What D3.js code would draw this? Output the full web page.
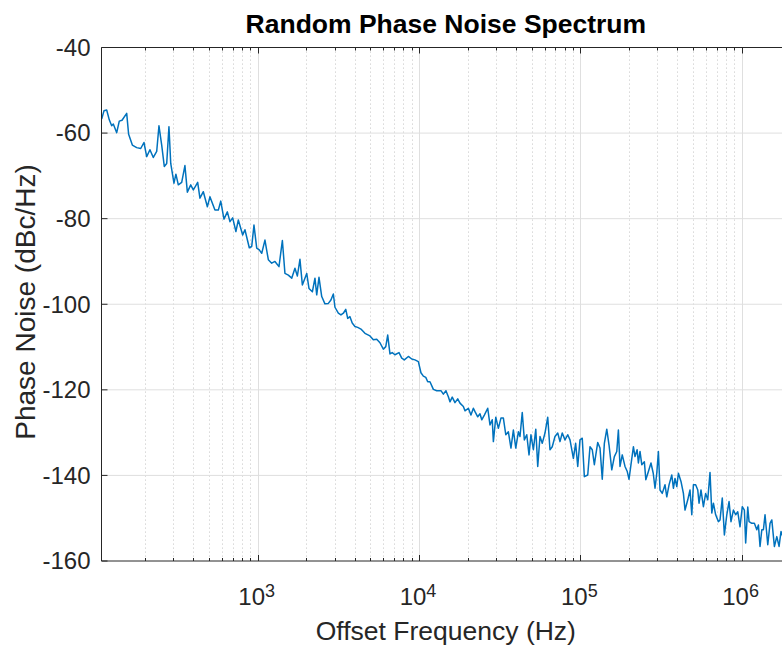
<!DOCTYPE html>
<meta charset="utf-8">

<style type="text/css">
	body {
		margin: 0;
		background: #fff;
	}
	svg {
		display: block;
		font-family: "Liberation Sans", Arial, Helvetica, sans-serif;
	}
	.grid-major line {
		stroke: #dfdfdf;
		stroke-width: 1;
	}
	.grid-minor line {
		stroke: #cccccc;
		stroke-width: 1;
		stroke-dasharray: 1.2, 2.8;
	}
	.frame line, .ticks line {
		stroke: #262626;
		stroke-width: 1;
	}
	.tick-label {
		fill: #262626;
		font-size: 24px;
	}
</style>

<body>

</body>

<script src="https://d3js.org/d3.v7.min.js"></script>

<script>

	// offset frequency, stored as log10(Hz)
	var freqLog10 = [
		2.033,2.047,2.064,2.080,2.095,2.105,2.126,2.142,2.159,2.188,2.200,2.223,2.250,2.275,2.295,2.312,2.332,2.353,2.374,2.388,
		2.405,2.421,2.436,2.450,2.461,2.481,2.493,2.508,2.529,2.549,2.564,2.585,2.601,2.628,2.642,2.663,2.688,2.704,2.735,2.756,
		2.771,2.791,2.812,2.828,2.845,2.865,2.880,2.907,2.921,2.948,2.963,2.977,2.994,3.010,3.025,3.045,
		3.066,3.087,3.107,3.132,3.153,3.169,3.190,3.211,3.231,3.246,3.262,3.277,3.304,3.318,3.339,3.355,3.366,3.380,3.397,3.417,
		3.438,3.454,3.469,3.479,3.500,3.516,3.531,3.546,3.558,3.572,3.586,3.603,3.620,3.640,3.665,3.696,3.717,3.738,3.758,3.779,
		3.794,3.806,3.820,3.834,3.851,3.876,3.893,3.909,3.934,3.955,3.975,3.996,4.012,
		4.027,4.042,4.054,4.068,4.089,4.110,4.136,4.151,4.167,4.182,4.192,4.206,4.223,4.240,4.254,4.275,4.285,4.306,4.322,4.337,
		4.347,4.364,4.378,4.389,4.405,4.426,4.440,4.454,4.461,4.476,4.492,4.508,4.523,4.538,4.554,4.570,4.585,4.600,4.616,4.626,
		4.640,4.653,4.668,4.682,4.694,4.709,4.724,4.736,4.750,4.764,4.781,4.798,4.812,4.826,4.843,4.860,4.874,4.888,4.905,4.922,
		4.936,4.957,4.971,4.984,4.998,5.012,5.025,
		5.046,5.060,5.074,5.087,5.096,5.108,5.122,5.136,5.149,5.164,5.178,5.195,5.211,5.226,5.236,5.246,5.260,5.277,5.291,5.302,
		5.314,5.329,5.339,5.352,5.360,5.370,5.381,5.397,5.406,5.422,5.438,5.452,5.463,5.474,5.484,5.494,5.508,5.525,5.536,5.550,
		5.567,5.577,5.587,5.598,5.608,5.624,5.639,5.649,5.666,5.680,5.691,5.701,5.715,5.728,5.736,5.748,5.763,5.777,5.790,5.804,
		5.815,5.825,5.839,5.856,5.866,5.880,5.893,5.908,5.922,5.934,5.949,5.963,5.976,5.990,6.004,6.017,6.025,6.038,6.046,6.063,
		6.079,6.094,6.104,6.114,6.125,6.135,6.145,6.162,6.176,6.187,6.203,6.218,6.232,6.244,6.262,6.281,6.301
	];

	// phase noise, dBc/Hz
	var phaseNoise = [
		-56.7,-54.8,-54.6,-56.9,-58.3,-57.9,-59.9,-57.2,-57.0,-55.4,-60.3,-62.8,-63.4,-63.6,-62.2,-65.5,-63.9,-65.7,-64.3,-58.3,
		-62.8,-67.8,-67.1,-58.5,-67.1,-71.7,-69.6,-72.1,-71.5,-67.6,-73.8,-72.1,-73.3,-71.5,-75.2,-73.7,-77.2,-74.9,-78.0,-78.0,
		-75.9,-80.1,-78.4,-80.7,-79.8,-83.0,-80.3,-83.8,-82.6,-86.8,-86.5,-81.5,-86.9,-87.3,-88.1,-85.0,
		-89.6,-90.4,-90.0,-91.2,-85.1,-92.8,-93.2,-93.9,-91.6,-93.4,-89.5,-95.5,-92.8,-96.3,-97.1,-93.9,-97.8,-93.7,-98.2,-99.9,
		-99.8,-99.0,-97.6,-100.7,-102.1,-102.5,-102.1,-101.2,-103.3,-102.9,-104.4,-105.2,-105.4,-105.8,-106.8,-107.4,-108.3,-108.2,-109.0,-110.5,
		-109.9,-107.2,-111.6,-111.3,-111.8,-111.3,-112.6,-113.0,-112.2,-112.8,-113.0,-113.4,-116.0,
		-116.8,-117.1,-118.1,-118.1,-119.9,-120.2,-120.2,-121.0,-120.2,-121.6,-122.8,-121.7,-123.0,-122.1,-123.1,-123.9,-124.9,-124.3,-125.9,-124.3,
		-125.1,-126.3,-125.6,-127.0,-125.9,-124.3,-128.2,-127.0,-132.1,-126.4,-129.0,-126.6,-126.6,-130.5,-129.8,-133.6,-129.4,-133.6,-129.8,-130.9,
		-125.3,-131.7,-130.5,-135.2,-130.5,-134.0,-129.2,-137.9,-130.9,-132.5,-130.1,-126.4,-134.0,-133.3,-130.9,-130.1,-132.1,-130.1,-131.7,-130.5,
		-131.7,-136.0,-132.5,-137.9,-131.7,-131.3,-140.3,
		-139.9,-133.3,-134.0,-137.5,-135.2,-132.3,-133.6,-140.9,-132.5,-129.2,-132.9,-138.7,-135.6,-134.4,-129.4,-137.9,-135.2,-137.9,-139.1,-140.9,
		-137.5,-133.3,-135.6,-134.0,-137.1,-134.4,-137.5,-136.8,-141.0,-139.1,-137.1,-139.5,-143.0,-139.5,-134.4,-143.4,-144.2,-142.2,-145.0,-142.2,
		-139.9,-143.0,-140.7,-142.6,-139.5,-141.4,-144.2,-148.1,-145.7,-143.4,-149.2,-142.2,-142.2,-143.4,-146.5,-143.4,-147.3,-144.2,-145.7,-139.3,
		-148.8,-146.5,-149.2,-150.8,-150.4,-145.3,-153.9,-149.2,-146.1,-150.8,-148.1,-149.2,-148.5,-152.0,-147.3,-148.1,-155.8,-147.4,-150.8,-151.2,
		-151.2,-152.7,-151.6,-156.6,-152.7,-152.7,-149.2,-156.2,-151.2,-150.4,-156.6,-154.3,-156.6,-153.1,-155.0,-152.4,-156.0
	];

	var xDecades = [3, 4, 5, 6];
	var yTicks = [-40, -60, -80, -100, -120, -140, -160];
	var xLimits = [107.6, 2e6];
	var yLimits = [-160, -40];

	var titleText = "Random Phase Noise Spectrum";
	var xLabelText = "Offset Frequency (Hz)";
	var yLabelText = "Phase Noise (dBc/Hz)";

	var W = 782, H = 650;
	var margin = {left: 101.5, right: 790.2, top: 47.5, bottom: 561};

	var data = freqLog10.map(function(e, i) {
		return {f: Math.pow(10, e), v: phaseNoise[i]};
	});

	var x = d3.scaleLog().domain(xLimits).range([margin.left, margin.right]);
	var y = d3.scaleLinear().domain(yLimits).range([margin.bottom, margin.top]);

	var allTicks = x.ticks();
	var isMajor = function(t) { return Math.abs(Math.log10(t) - Math.round(Math.log10(t))) < 1e-9; };
	var majorX = allTicks.filter(isMajor);
	var minorX = allTicks.filter(function(t) { return !isMajor(t); });
	var px = function(d) { return Math.round(x(d)) + 0.5; };

	var svg = d3.select("body").append("svg")
		.attr("width", W)
		.attr("height", H);

	// grid
	svg.append("g").attr("class", "grid-minor")
		.selectAll("line").data(minorX).enter().append("line")
		.attr("x1", px).attr("x2", px)
		.attr("y1", margin.top).attr("y2", margin.bottom);

	var gMaj = svg.append("g").attr("class", "grid-major");
	gMaj.selectAll("line.v").data(majorX).enter().append("line")
		.attr("class", "v")
		.attr("x1", px).attr("x2", px)
		.attr("y1", margin.top).attr("y2", margin.bottom);
	gMaj.selectAll("line.h").data(yTicks.slice(1, -1)).enter().append("line")
		.attr("class", "h")
		.attr("x1", margin.left).attr("x2", margin.right)
		.attr("y1", function(d) { return y(d); })
		.attr("y2", function(d) { return y(d); });

	// the trace
	svg.append("clipPath").attr("id", "plotclip")
		.append("rect")
		.attr("x", margin.left).attr("y", margin.top)
		.attr("width", margin.right - margin.left).attr("height", margin.bottom - margin.top);

	var line = d3.line()
		.x(function(d) { return x(d.f); })
		.y(function(d) { return y(d.v); });

	svg.append("path")
		.datum(data)
		.attr("clip-path", "url(#plotclip)")
		.attr("fill", "none")
		.attr("stroke", "#0072bd")
		.attr("stroke-width", 1.5)
		.attr("stroke-linejoin", "round")
		.attr("d", line);

	// box
	var frame = svg.append("g").attr("class", "frame");
	frame.append("line").attr("x1", margin.left).attr("x2", margin.left).attr("y1", margin.top).attr("y2", margin.bottom);
	frame.append("line").attr("x1", margin.left).attr("x2", margin.right).attr("y1", margin.top).attr("y2", margin.top);
	frame.append("line").attr("x1", margin.left).attr("x2", margin.right).attr("y1", margin.bottom).attr("y2", margin.bottom);

	// inward ticks
	var ticks = svg.append("g").attr("class", "ticks");
	[[majorX, 6], [minorX, 3]].forEach(function(pair) {
		ticks.selectAll(null).data(pair[0]).enter().append("line")
			.attr("x1", px).attr("x2", px)
			.attr("y1", margin.bottom).attr("y2", margin.bottom - pair[1]);
		ticks.selectAll(null).data(pair[0]).enter().append("line")
			.attr("x1", px).attr("x2", px)
			.attr("y1", margin.top).attr("y2", margin.top + pair[1]);
	});
	ticks.selectAll(null).data(yTicks).enter().append("line")
		.attr("x1", margin.left).attr("x2", margin.left + 6)
		.attr("y1", function(d) { return y(d); })
		.attr("y2", function(d) { return y(d); });

	// tick labels
	svg.append("g").selectAll("text").data(yTicks).enter().append("text")
		.attr("class", "tick-label")
		.attr("x", margin.left - 11)
		.attr("y", function(d) { return y(d); })
		.attr("dy", "0.35em")
		.attr("text-anchor", "end")
		.text(function(d) { return d; });

	var xl = svg.append("g").selectAll("text").data(xDecades).enter().append("text")
		.attr("class", "tick-label")
		.attr("x", function(d) { return x(Math.pow(10, d)) - 1; })
		.attr("y", 605)
		.attr("text-anchor", "middle");
	xl.append("tspan").text("10");
	xl.append("tspan")
		.attr("dy", -8)
		.style("font-size", "18px")
		.text(function(d) { return d; });

	// title and axis labels
	svg.append("text")
		.attr("x", (margin.left + margin.right) / 2)
		.attr("y", 33)
		.attr("text-anchor", "middle")
		.style("font-size", "26.5px")
		.style("font-weight", "bold")
		.style("fill", "#000")
		.text(titleText);

	svg.append("text")
		.attr("x", (margin.left + margin.right) / 2)
		.attr("y", 640)
		.attr("text-anchor", "middle")
		.style("font-size", "26.5px")
		.style("fill", "#262626")
		.text(xLabelText);

	svg.append("text")
		.attr("transform", "translate(35,302) rotate(-90)")
		.attr("text-anchor", "middle")
		.style("font-size", "28px")
		.style("fill", "#262626")
		.text(yLabelText);

</script>
